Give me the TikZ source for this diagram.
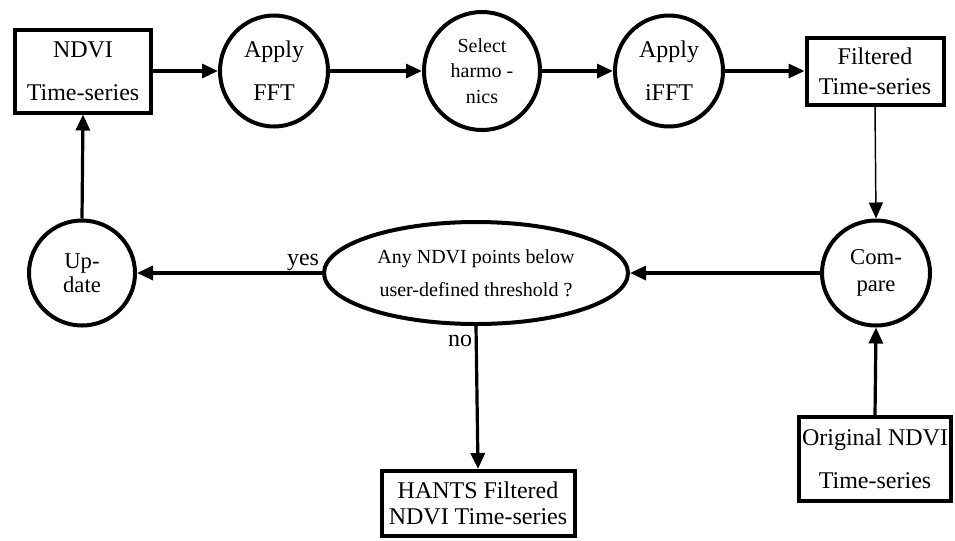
\documentclass[tikz,border=0pt]{standalone}
\usepackage{fontspec}
\setmainfont{Liberation Serif}
\usetikzlibrary{arrows.meta,shapes.geometric}
\tikzset{
    stepbox/.style={
        draw, rectangle, line width=3pt, inner sep=0pt, align=center,
        font=\fontsize{18}{32}\selectfont
    },
    stepcirc/.style={
        draw, ellipse, line width=3pt, inner sep=0pt, align=center,
        font=\fontsize{18}{32}\selectfont
    },
    flow/.style={
        -{Triangle[length=12pt,width=10.5pt]}, line width=2.4pt
    },
    lab/.style={
        font=\fontsize{18}{22}\selectfont
    }
}

\begin{document}
\begin{tikzpicture}[x=0.75pt,y=-0.75pt, line join=miter]

\useasboundingbox (0,0) rectangle (955,540);

% top row
\node[stepbox, minimum width=102pt, minimum height=62.25pt] (ndvi) at (83,71) {NDVI\\Time-series};
\node[stepcirc, minimum width=81pt, minimum height=83.25pt] (fft) at (274,71) {Apply\\FFT};
\node[stepcirc, minimum width=87pt, minimum height=88.5pt,
      font=\fontsize{15}{19}\selectfont] (harm) at (482,71) {Select\\harmo -\\nics};
\node[stepcirc, minimum width=81pt, minimum height=83.25pt] (ifft) at (669,71) {Apply\\iFFT};
\node[stepbox, minimum width=102.75pt, minimum height=50.25pt,
      font=\fontsize{18}{22.5}\selectfont] (filt) at (875,71) {Filtered\\Time-series};

% middle row
\node[stepcirc, minimum width=79.5pt, minimum height=78.75pt,
      font=\fontsize{17}{18}\selectfont] (upd) at (82,273) {Up-\\date};
\node[stepcirc, minimum width=228pt, minimum height=76.5pt,
      font=\fontsize{15}{25}\selectfont] (test) at (476,273) {Any NDVI points below\\user-defined threshold ?};
\node[stepcirc, minimum width=81pt, minimum height=78.75pt,
      font=\fontsize{17}{20}\selectfont] (cmp) at (876,273) {Com-\\pare};

% bottom row
\node[stepbox, minimum width=144.75pt, minimum height=48.75pt,
      font=\fontsize{18}{20}\selectfont] (hants) at (478,503.5) {HANTS Filtered\\NDVI Time-series};
\node[stepbox, minimum width=114pt, minimum height=63pt] (orig) at (875,459) {Original NDVI\\Time-series};

% connectors
\draw[flow] (ndvi.east) -- (fft.west);
\draw[flow] (fft.east) -- (harm.west);
\draw[flow] (harm.east) -- (ifft.west);
\draw[flow] (ifft.east) -- (filt.west);
\draw[flow, line width=1.1pt] (filt.south) -- (cmp.north);
\draw[flow] (cmp.west) -- (test.east);
\draw[flow] (test.west) -- (upd.east);
\draw[flow] (test.south) -- (hants.north);
\draw[flow] (orig.north) -- (cmp.south);
\draw[flow] (upd.north) -- (ndvi.south);

\node[lab] (yeslab) at (303,262) {yes};
\node[lab] (nolab) at (460,341) {no};

\end{tikzpicture}
\end{document}
